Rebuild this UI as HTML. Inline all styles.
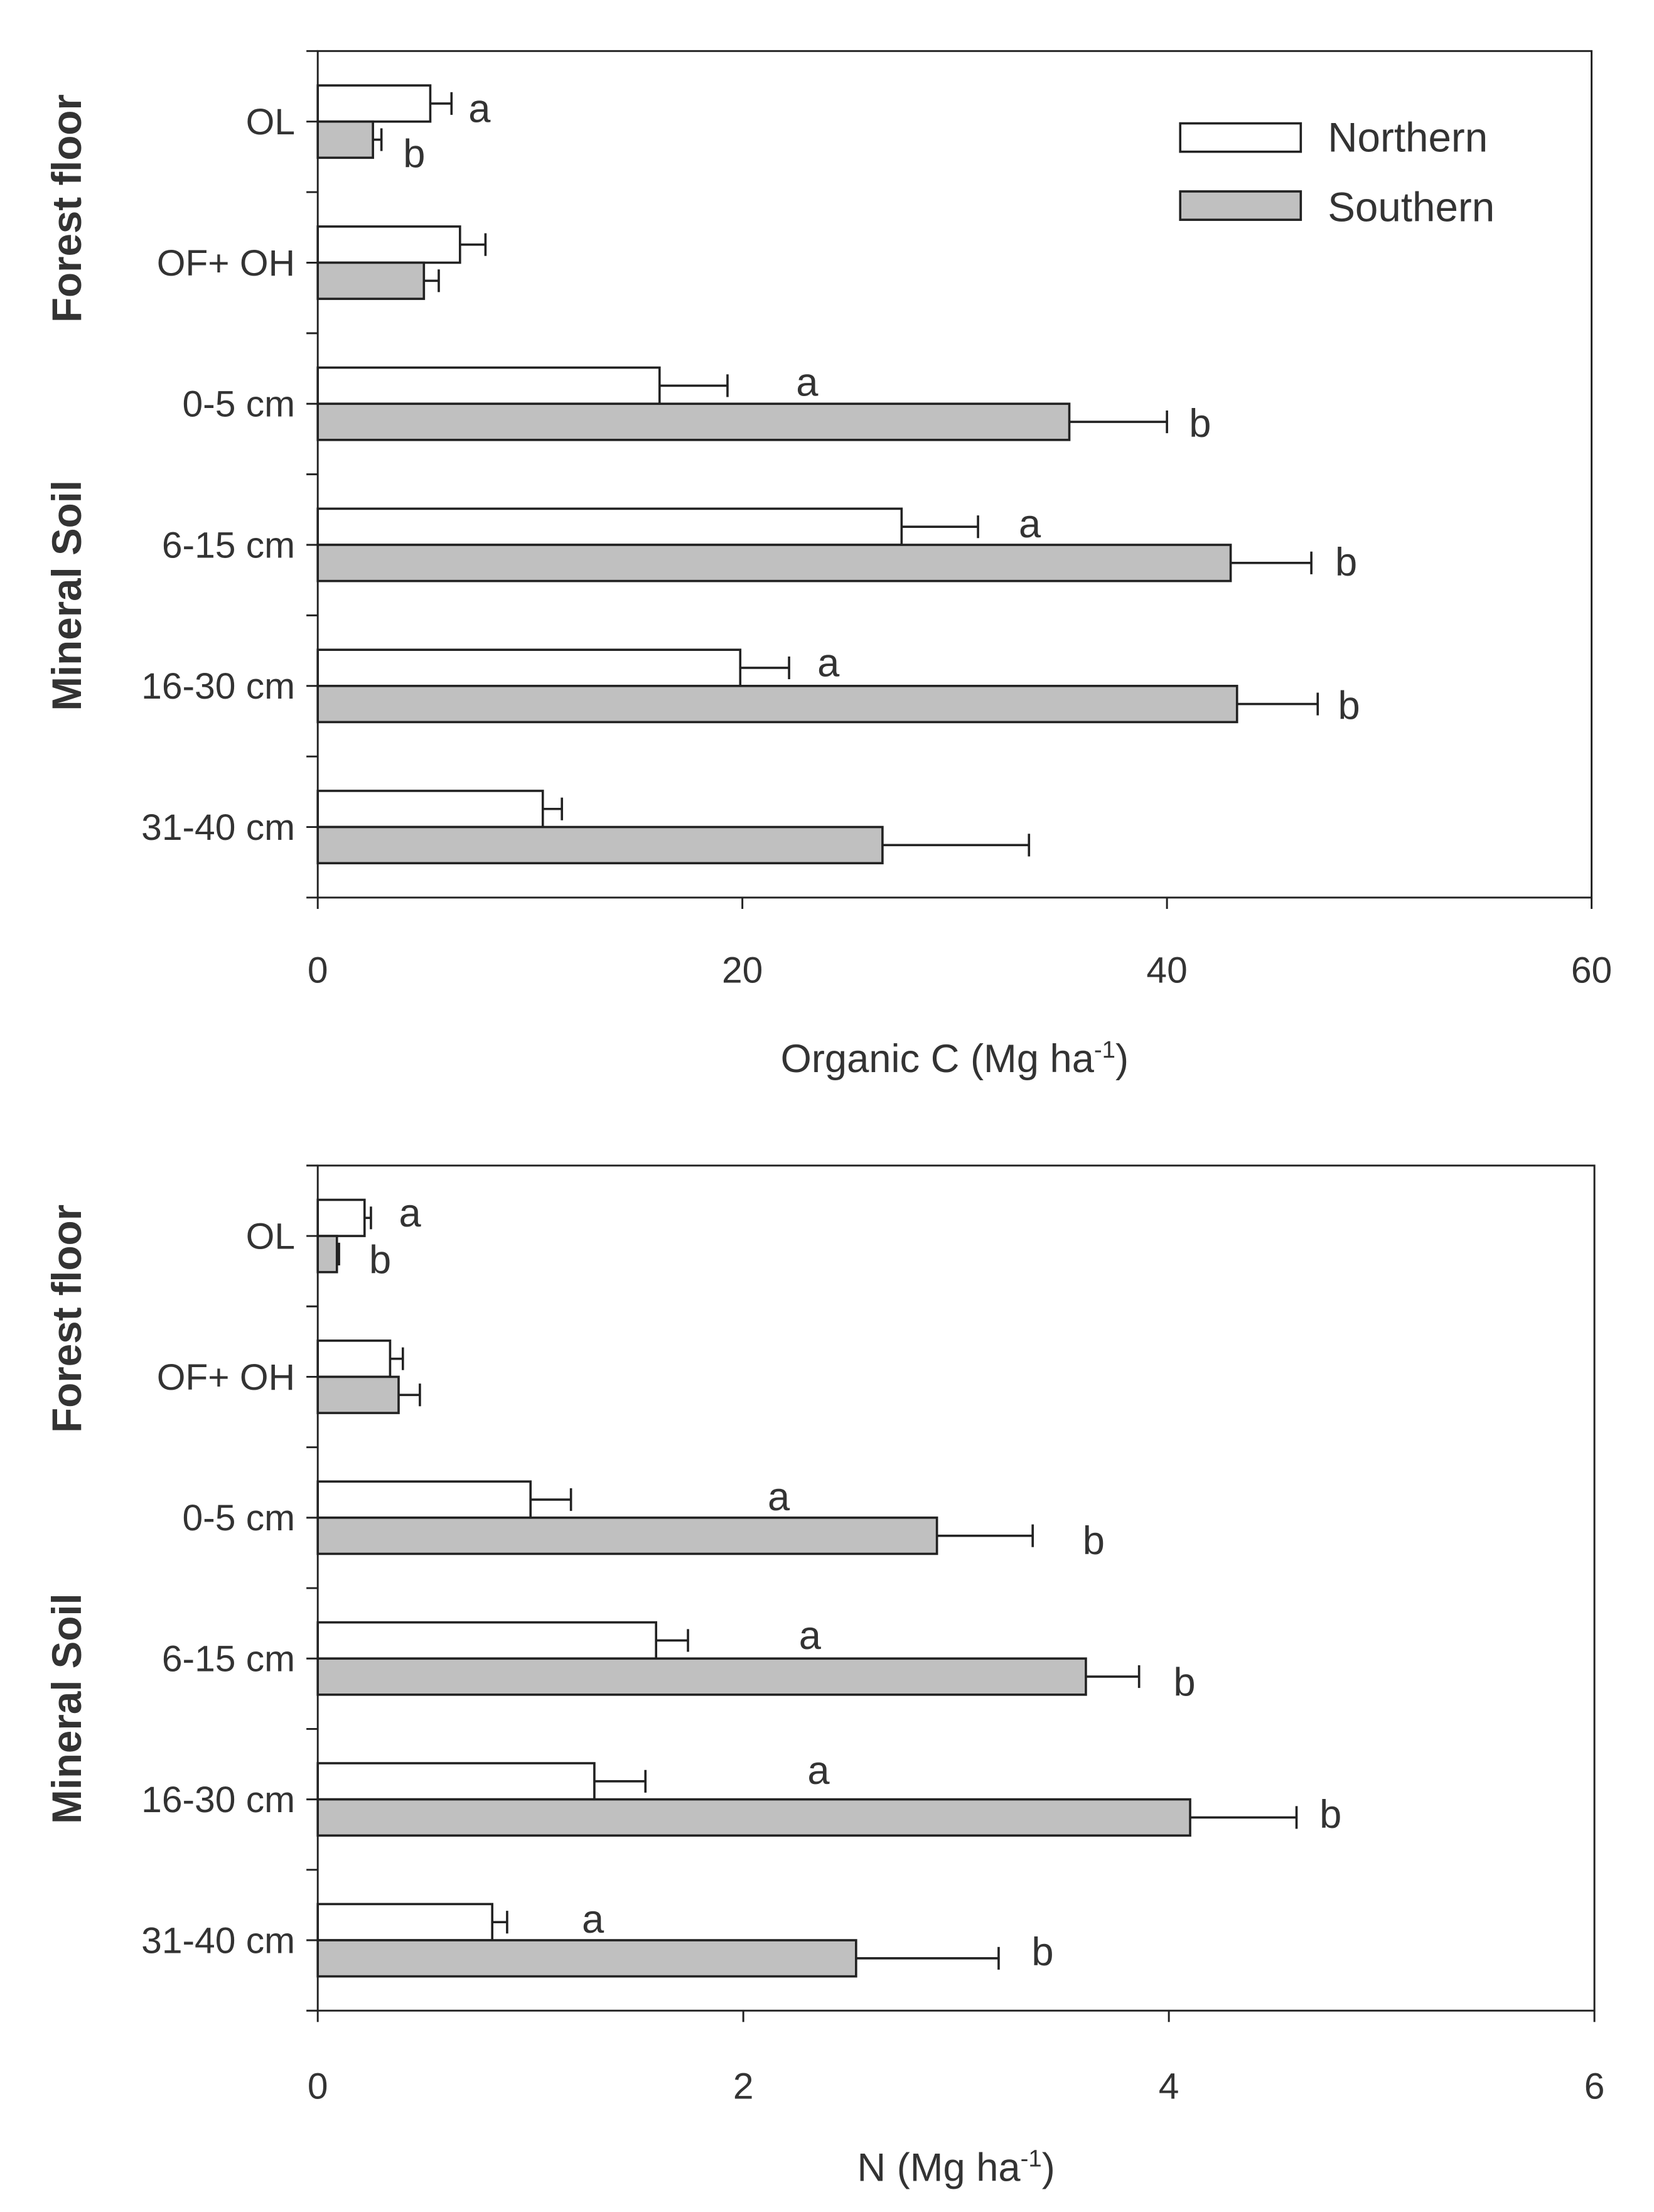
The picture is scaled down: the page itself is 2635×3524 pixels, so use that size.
<!DOCTYPE html>
<html><head><meta charset="utf-8"><style>
html,body{margin:0;padding:0;background:#fff;}
svg{display:block;}
text{font-family:"Liberation Sans",sans-serif;fill:#333;}
</style></head>
<body>
<svg id="fig" width="2635" height="3524" viewBox="0 0 1166 1560" preserveAspectRatio="none" xmlns="http://www.w3.org/2000/svg"></svg>
<script>
const categories = ["OL","OF+ OH","0-5 cm","6-15 cm","16-30 cm","31-40 cm"];
const cNorth = [5.3,6.7,16.1,27.5,19.9,10.6];
const cNorthErr = [1.0,1.2,3.2,3.6,2.3,0.9];
const cSouth = [2.6,5.0,35.4,43.0,43.3,26.6];
const cSouthErr = [0.4,0.7,4.6,3.8,3.8,6.9];
const cNorthLetters = ["a","","a","a","a",""];
const cSouthLetters = ["b","","b","b","b",""];
const cTicks = [0,20,40,60];
const nNorth = [0.22,0.34,1.0,1.59,1.30,0.82];
const nNorthErr = [0.03,0.06,0.19,0.15,0.24,0.07];
const nSouth = [0.09,0.38,2.91,3.61,4.10,2.53];
const nSouthErr = [0.01,0.10,0.45,0.25,0.50,0.67];
const nNorthLetters = ["a","","a","a","a","a"];
const nSouthLetters = ["b","","b","b","b","b"];
const nTicks = [0,2,4,6];

const NS="http://www.w3.org/2000/svg";
const svg=document.getElementById('fig');
function mk(tag,attrs,parent,txt){const e=document.createElementNS(NS,tag);for(const k in attrs)e.setAttribute(k,attrs[k]);if(txt!==undefined)e.textContent=txt;(parent||svg).appendChild(e);return e;}

function panel(opt){
  const g=mk('g',{});
  
  
  const L=opt.left,R=opt.right,T=opt.top,B=opt.bottom,max=opt.max;
  const x=v=>L+(R-L)*v/max;
  const step=(B-T)/categories.length;
  const yc=i=>T+step*(i+0.5);
  const bh=25.5;
  const frame=mk('rect',{x:L,y:T,width:R-L,height:B-T,fill:'none',stroke:'#222','stroke-width':1.3},g);
  
  
  for(let i=0;i<=categories.length;i++){
    const yy=T+step*i;
    const t=mk('line',{x1:L-8,x2:L,y1:yy,y2:yy,stroke:'#222','stroke-width':1.3},g);
    
    
  }
  categories.forEach((c,i)=>{
    const t=mk('line',{x1:L-8,x2:L,y1:yc(i),y2:yc(i),stroke:'#222','stroke-width':1.3},g);
    
    
    const lab=mk('text',{x:208,y:yc(i)+9,'text-anchor':'end','font-size':26},g,c);
    
    
  });
  opt.ticks.forEach(v=>{
    const t=mk('line',{x1:x(v),x2:x(v),y1:B,y2:B+8,stroke:'#222','stroke-width':1.3},g);
    
    
    const lab=mk('text',{x:x(v),y:opt.tickY,'text-anchor':'middle','font-size':26},g,String(v));
    
    
  });
  function bar(v,err,i,south,letter,lp){
    const y0=south?yc(i):yc(i)-bh;
    const r=mk('rect',{x:L,y:y0,width:x(v)-L,height:bh,fill:south?'#c0c0c0':'#fff',stroke:'#222','stroke-width':1.6},g);
    
    
    const ym=y0+bh/2;
    const e1=mk('line',{x1:x(v),x2:x(v+err),y1:ym,y2:ym,stroke:'#222','stroke-width':1.6},g);
    
    
    const e2=mk('line',{x1:x(v+err),x2:x(v+err),y1:ym-8,y2:ym+8,stroke:'#222','stroke-width':1.6},g);
    
    
    if(letter){
      const t=mk('text',{x:lp[0],y:lp[1],'text-anchor':'middle','font-size':28},g,letter);
      
      
    }
  }
  categories.forEach((c,i)=>{
    bar(opt.north[i],opt.nErr[i],i,false,opt.nLet[i],opt.nLetPos[i]);
    bar(opt.south[i],opt.sErr[i],i,true,opt.sLet[i],opt.sLetPos[i]);
  });
  const ti=mk('text',{x:(L+R)/2,y:opt.titleY,'text-anchor':'middle','font-size':28},g);
  
  
  mk('tspan',{},ti,opt.title+' (Mg ha');
  mk('tspan',{dy:-10,'font-size':17},ti,'-1');
  mk('tspan',{dy:10},ti,')');
  const g1=mk('text',{x:0,y:0,transform:`translate(57,${opt.ffY}) rotate(-90)`,'text-anchor':'middle','font-size':29,'font-weight':'bold'},g,'Forest floor');
  
  
  const g2=mk('text',{x:0,y:0,transform:`translate(57,${opt.msY}) rotate(-90)`,'text-anchor':'middle','font-size':29,'font-weight':'bold'},g,'Mineral Soil');
  
  
}

panel({name:'organic-c-chart',left:224,right:1122,top:36,bottom:633,max:60,ticks:cTicks,
  north:cNorth,nErr:cNorthErr,south:cSouth,sErr:cSouthErr,nLet:cNorthLetters,sLet:cSouthLetters,
  nLetPos:[[338,86],[0,0],[569,279],[726,379],[584,477],[0,0]],
  sLetPos:[[292,118],[0,0],[846,308],[949,406],[951,507],[0,0]],
  tickY:693,titleY:756,title:'Organic C',ffY:147,msY:420});
panel({name:'nitrogen-chart',left:224,right:1124,top:822,bottom:1418,max:6,ticks:nTicks,
  north:nNorth,nErr:nNorthErr,south:nSouth,sErr:nSouthErr,nLet:nNorthLetters,sLet:nSouthLetters,
  nLetPos:[[289,865],[0,0],[549,1065],[571,1163],[577,1258],[418,1363]],
  sLetPos:[[268,898],[0,0],[771,1096],[835,1196],[938,1289],[735,1386]],
  tickY:1480,titleY:1538,title:'N',ffY:930,msY:1205});

const lg=mk('g',{});


const l1=mk('rect',{x:832,y:87,width:85,height:20,fill:'#fff',stroke:'#222','stroke-width':1.6},lg);


const t1=mk('text',{x:936,y:107,'font-size':29},lg,'Northern');


const l2=mk('rect',{x:832,y:135,width:85,height:20,fill:'#c0c0c0',stroke:'#222','stroke-width':1.6},lg);


const t2=mk('text',{x:936,y:156,'font-size':29},lg,'Southern');


</script>
</body></html>
